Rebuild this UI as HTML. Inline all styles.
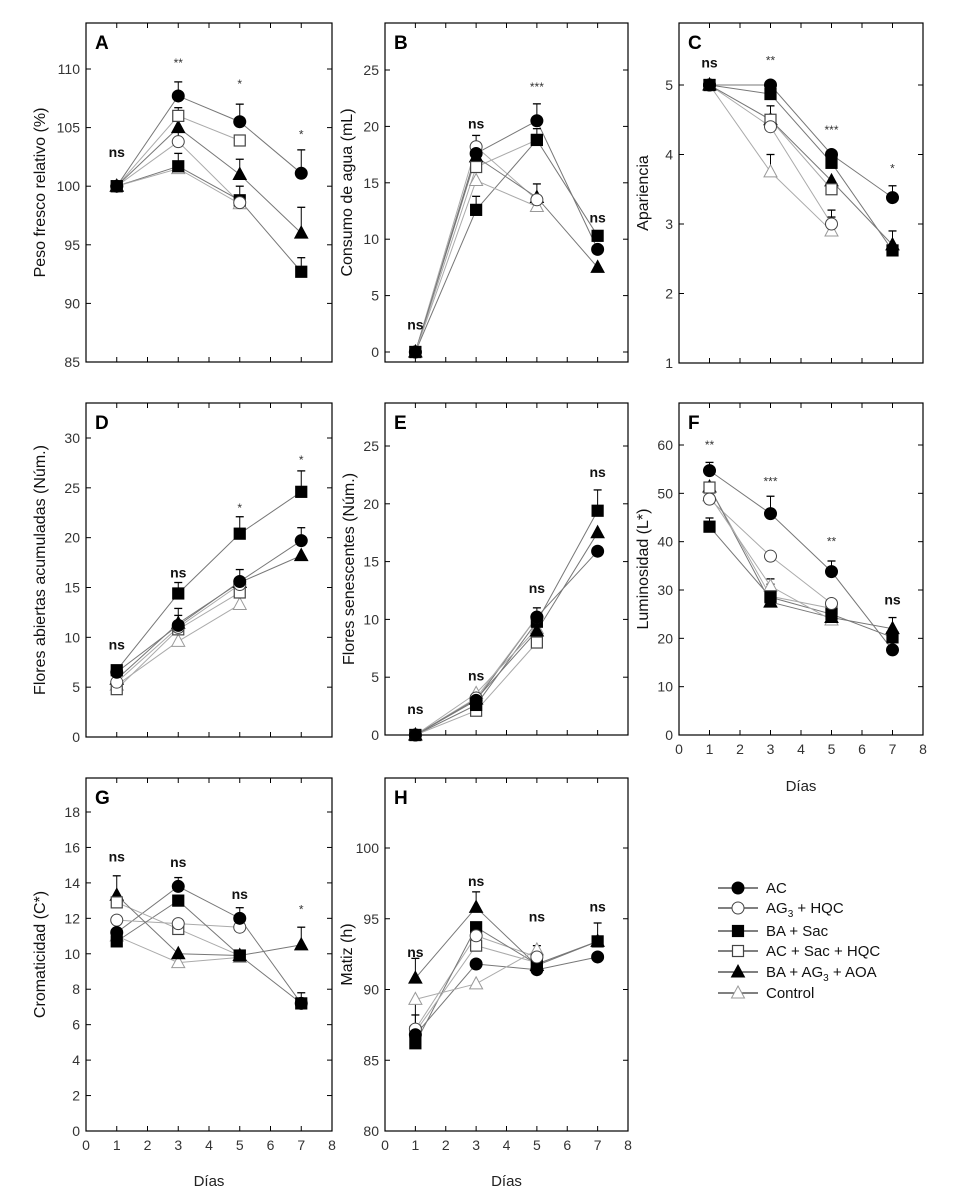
<!DOCTYPE html>
<html><head><meta charset="utf-8"><style>
body{margin:0;background:#fff;}
svg{display:block;font-family:"Liberation Sans",Arial,sans-serif;}
</style></head><body>
<svg id="fig" width="955" height="1203" viewBox="0 0 955 1203"></svg>
<script>
const days=[1,3,5,7];
const seriesNames=["AC","AG3 + HQC","BA + Sac","AC + Sac + HQC","BA + AG3 + AOA","Control"];
const markers=["fc","oc","fs","os","ft","ot"];
const valsA=[[100,107.7,105.5,101.1],[100,103.8,98.6,null],[100,101.7,98.8,92.7],[100,106,103.9,null],[100,105,101,96],[100,101.5,98.5,null]];
const errA=[[0,1.2,1.5,2],[0,1,0,0],[0,1.1,1.2,1.2],[0,0.7,0,0],[0,0,1.3,2.2],[0,0,0,0]];
const sigA=[["ns",102.5],["**",110.5],["*",108.7],["*",104.4]];
const valsB=[[0,17.6,20.5,9.1],[0,18.2,13.5,null],[0,12.6,18.8,10.3],[0,16.4,18.8,null],[0,17.3,13.7,7.5],[0,15.2,12.9,null]];
const errB=[[0,1,1.5,0],[0,1,0,0],[0,1.2,0,0],[0,0,1,0],[0,0,1.2,0],[0,0,0,0]];
const sigB=[["ns",2],["ns",19.8],["***",23.5],["ns",11.5]];
const valsC=[[5,5,4,3.38],[5,4.4,3.0,null],[5,4.87,3.88,2.62],[5,4.5,3.5,null],[5,4.5,3.62,2.7],[5,3.75,2.9,null]];
const errC=[[0,0,0,0.17],[0,0,0.2,0],[0,0,0,0],[0,0,0,0],[0,0.2,0,0.2],[0,0.25,0.2,0]];
const sigC=[["ns",5.25],["**",5.35],["***",4.35],["*",3.8]];
const valsD=[[6.5,11.2,15.6,19.7],[5.5,11,15.3,null],[6.7,14.4,20.4,24.6],[4.8,10.8,14.5,null],[5.8,11.4,15.5,18.2],[5.2,9.6,13.3,null]];
const errD=[[0,1,1.2,1.3],[0,0,0,0],[0,1.1,1.7,2.1],[0,0,0,0],[0,1.5,0,0],[0,0,0,0]];
const sigD=[["ns",8.8],["ns",16],["*",23],["*",27.8]];
const valsE=[[0,3,10.2,15.9],[0,3.2,10.2,null],[0,2.6,9.8,19.4],[0,2.1,8,null],[0,3.1,9,17.5],[0,3.6,9.2,null]];
const errE=[[0,0,0.8,0],[0,0,0,0],[0,0,0,1.8],[0,0,0,0],[0,0,0,0],[0,0,0,0]];
const sigE=[["ns",1.8],["ns",4.7],["ns",12.3],["ns",22.3]];
const valsF=[[54.7,45.8,33.8,17.6],[48.8,37,27.2,null],[43.1,28.5,25,20.2],[51.2,28.7,26.2,null],[51.3,27.5,24.3,22],[49.5,30.8,23.8,null]];
const errF=[[1.7,3.6,2.2,0],[0,0,0,0],[1.8,0,0,0],[0,2.5,0,0],[0,0,0,2.3],[0,1.5,0,0]];
const sigF=[["**",60],["***",52.5],["**",40],["ns",27]];
const valsG=[[11.2,13.8,12,7.2],[11.9,11.7,11.5,null],[10.7,13,9.9,7.2],[12.9,11.4,9.9,null],[13.3,10,9.9,10.5],[11,9.5,9.8,null]];
const errG=[[0,0.5,0.6,0],[0,0,0,0],[0,0,0,0.6],[0,0,0,0],[1.1,0,0,1],[0,0,0,0]];
const sigG=[["ns",15.2],["ns",14.9],["ns",13.1],["*",12.5]];
const valsH=[[86.8,91.8,91.4,92.3],[87.2,93.8,92.3,null],[86.2,94.4,91.8,93.4],[87,93.1,91.9,null],[90.8,95.8,91.7,93.4],[89.3,90.4,92.8,null]];
const errH=[[0,0,0,0],[1.8,0,0,0],[0,0,0,1.3],[1.2,0,1.2,0],[1.4,1.1,0,0],[0,0,0,0]];
const sigH=[["ns",92.3],["ns",97.3],["ns",94.8],["ns",95.5]];
const ticksA=[85,90,95,100,105,110],ticksB=[0,5,10,15,20,25],ticksC=[1,2,3,4,5],ticksD=[0,5,10,15,20,25,30],ticksE=[0,5,10,15,20,25],ticksF=[0,10,20,30,40,50,60],ticksG=[0,2,4,6,8,10,12,14,16,18],ticksH=[80,85,90,95,100];
const xTicks=[0,1,2,3,4,5,6,7,8];

const NS="http://www.w3.org/2000/svg";
const svg=document.getElementById("fig");
function el(tag,attrs,parent){const e=document.createElementNS(NS,tag);for(const k in attrs)e.setAttribute(k,attrs[k]);(parent||svg).appendChild(e);return e;}

const panels=[
 {id:"A",x0:86,x1:332,y0:23,y1:362,v0:85,p0:362,v1:110,p1:69,vals:valsA,err:errA,sig:sigA,ticks:ticksA,title:"Peso fresco relativo (%)",tx:40,xl:false},
 {id:"B",x0:385,x1:628,y0:23,y1:362,v0:0,p0:352,v1:25,p1:70,vals:valsB,err:errB,sig:sigB,ticks:ticksB,title:"Consumo de agua (mL)",tx:347,xl:false},
 {id:"C",x0:679,x1:923,y0:23,y1:363,v0:1,p0:363,v1:5,p1:85,vals:valsC,err:errC,sig:sigC,ticks:ticksC,title:"Apariencia",tx:643,xl:false},
 {id:"D",x0:86,x1:332,y0:403,y1:737,v0:0,p0:737,v1:30,p1:438,vals:valsD,err:errD,sig:sigD,ticks:ticksD,title:"Flores abiertas acumuladas (Núm.)",tx:40,xl:false},
 {id:"E",x0:385,x1:628,y0:403,y1:735,v0:0,p0:735,v1:25,p1:446,vals:valsE,err:errE,sig:sigE,ticks:ticksE,title:"Flores senescentes (Núm.)",tx:349,xl:false},
 {id:"F",x0:679,x1:923,y0:403,y1:735,v0:0,p0:735,v1:60,p1:445,vals:valsF,err:errF,sig:sigF,ticks:ticksF,title:"Luminosidad (L*)",tx:643,xl:true,lx:800,ly:754,dy:791},
 {id:"G",x0:86,x1:332,y0:778,y1:1131,v0:0,p0:1131,v1:18,p1:812,vals:valsG,err:errG,sig:sigG,ticks:ticksG,title:"Cromaticidad (C*)",tx:40,xl:true,ly:1150,dy:1186},
 {id:"H",x0:385,x1:628,y0:778,y1:1131,v0:80,p0:1131,v1:100,p1:848,vals:valsH,err:errH,sig:sigH,ticks:ticksH,title:"Matiz (h)",tx:347,xl:true,ly:1150,dy:1186}
];

function marker(g,type,x,y,s){
 const fill=type[0]==="f"?"#000":"#fff", stroke=type[0]==="f"?"#000":(type==="ot"?"#999":"#444");
 let m;
 if(type[1]==="c") m=el("circle",{cx:x,cy:y,r:s/2,fill,stroke,"stroke-width":1},g);
 else if(type[1]==="s") m=el("rect",{x:x-s/2+0.5,y:y-s/2+0.5,width:s-1,height:s-1,fill,stroke,"stroke-width":1.2},g);
 else m=el("polygon",{points:`${x},${y-s/2-1} ${x+s/2+0.5},${y+s/2-1} ${x-s/2-0.5},${y+s/2-1}`,fill,stroke,"stroke-width":1},g);
 return m;
}

panels.forEach(p=>{
 const xs=d=>p.x0+(p.x1-p.x0)*d/8;
 const ys=v=>p.p0+(p.p1-p.p0)*(v-p.v0)/(p.v1-p.v0);
 const g=el("g",{});
 
 
 const box=el("rect",{x:p.x0,y:p.y0,width:p.x1-p.x0,height:p.y1-p.y0,fill:"none",stroke:"#000","stroke-width":1.2},g);
 
 
 xTicks.slice(1,8).forEach(d=>{
  el("line",{x1:xs(d),x2:xs(d),y1:p.y1,y2:p.y1-5,stroke:"#000"},g);
  el("line",{x1:xs(d),x2:xs(d),y1:p.y0,y2:p.y0+5,stroke:"#000"},g);
 });
 p.ticks.forEach(v=>{
  const y=ys(v);
  el("line",{x1:p.x0,x2:p.x0+5,y1:y,y2:y,stroke:"#000"},g);
  el("line",{x1:p.x1,x2:p.x1-5,y1:y,y2:y,stroke:"#000"},g);
  const t=el("text",{x:p.x0-6,y:y+5,"text-anchor":"end","font-size":14,fill:"#333"},g);
  t.textContent=v;
  
  
 });
 if(p.xl){
  xTicks.forEach(d=>{
   const t=el("text",{x:xs(d),y:p.ly,"text-anchor":"middle","font-size":14,fill:"#333"},g);
   t.textContent=d;
   
   
  });
  const dt=el("text",{x:(p.x0+p.x1)/2,y:p.dy,"text-anchor":"middle","font-size":15,fill:"#222"},g);
  dt.textContent="Días";
  
  
 }
 const cy=(p.y0+p.y1)/2;
 const tt=el("text",{x:p.tx,y:cy,"text-anchor":"middle","font-size":16,fill:"#111",transform:`rotate(-90 ${p.tx} ${cy})`,dy:5},g);
 tt.textContent=p.title;
 
 
 const lt=el("text",{x:p.x0+9,y:p.y0+26,"font-size":19,"font-weight":"bold"},g);
 lt.textContent=p.id;
 
 
 // lines
 p.vals.forEach((s,i)=>{
  const pts=[];s.forEach((v,j)=>{if(v!==null)pts.push(xs(days[j])+","+ys(v));});
  const pl=el("polyline",{points:pts.join(" "),fill:"none",stroke:i%2?"#aaa":"#777","stroke-width":1},g);
  
  
 });
 // error bars
 p.vals.forEach((s,i)=>{s.forEach((v,j)=>{const e=p.err[i][j];if(v!==null&&e>0){
  const x=xs(days[j]);el("line",{x1:x,x2:x,y1:ys(v),y2:ys(v+e),stroke:"#000"},g);
  el("line",{x1:x-4,x2:x+4,y1:ys(v+e),y2:ys(v+e),stroke:"#000","stroke-width":1.3},g);}});});
 // markers (draw control first, AC last)
 for(let i=p.vals.length-1;i>=0;i--){p.vals[i].forEach((v,j)=>{if(v!==null){
  const m=marker(g,markers[i],xs(days[j]),ys(v),12);
  
  }});}
 p.sig.forEach((s,j)=>{
  const star=s[0]!=="ns";
  const t=el("text",{x:xs(days[j]),y:ys(s[1])+(star?4:0),"text-anchor":"middle","font-size":star?12:14,"font-weight":star?"normal":"bold",fill:star?"#333":"#111"},g);
  t.textContent=s[0];
  
  
 });
});

// legend
const lg=el("g",{});


const legendY=[888,908,931,951,972,993];
const legendLabels=["AC","AG<tspan font-size='10' dy='4'>3</tspan><tspan dy='-4'> + HQC</tspan>","BA + Sac","AC + Sac + HQC","BA + AG<tspan font-size='10' dy='4'>3</tspan><tspan dy='-4'> + AOA</tspan>","Control"];
seriesNames.forEach((n,i)=>{
 const y=legendY[i];
 const row=el("g",{},lg);
 
 
 el("line",{x1:718,x2:758,y1:y,y2:y,stroke:"#000"},row);
 marker(row,markers[i],738,y,12);
 const t=el("text",{x:766,y:y+5,"font-size":15,fill:"#111"},row);
 t.innerHTML=legendLabels[i];
});
</script>
</body></html>
